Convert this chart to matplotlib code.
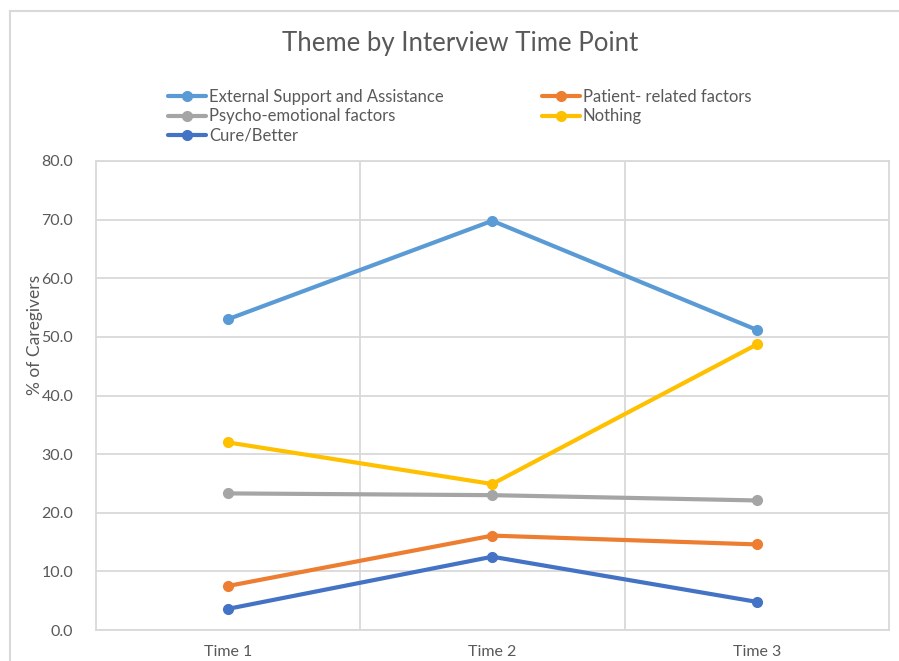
import numpy as np
import matplotlib
matplotlib.use("Agg")
from matplotlib import pyplot as plt
from matplotlib.lines import Line2D

plt.rcParams["font.family"] = ["Lato", "DejaVu Sans"]

# data
times = ["Time 1", "Time 2", "Time 3"]
external = [53.0, 69.8, 51.2]
patient = [7.5, 16.1, 14.6]
psycho = [23.3, 23.0, 22.1]
nothing = [32.0, 24.9, 48.7]
cure = [3.6, 12.5, 4.8]

series = [
    ("External Support and Assistance", external, "#5B9BD5"),
    ("Patient- related factors", patient, "#ED7D31"),
    ("Psycho-emotional factors", psycho, "#A5A5A5"),
    ("Nothing", nothing, "#FFC000"),
    ("Cure/Better", cure, "#4472C4"),
]

grid_c = "#D9D9D9"
text_c = "#595959"

fig = plt.figure(figsize=(8.99, 6.61), dpi=100)
ax = fig.add_axes([95.5 / 899, 1 - 630 / 661, (889 - 95.5) / 899, (630 - 161) / 661])

x = np.arange(len(times))
handles = {}
for name, vals, col in series:
    h, = ax.plot(x, vals, color=col, lw=3, marker="o", ms=7,
                 solid_capstyle="round", label=name, zorder=3)
    handles[name] = h

ax.set_xlim(-0.5, 2.5)
ax.set_ylim(0, 80)
ax.set_yticks(np.arange(0, 81, 10))
ax.set_yticklabels([f"{v:.1f}" for v in np.arange(0, 81, 10)])
ax.set_xticks(x)
ax.set_xticklabels(times)
ax.set_xticks([0.5, 1.5], minor=True)
ax.grid(axis="y", color=grid_c, lw=1.3)
ax.grid(axis="x", which="minor", color=grid_c, lw=1.3)
ax.tick_params(length=0, which="both", colors=text_c, labelsize=11.5)
ax.tick_params(axis="y", pad=16)
ax.tick_params(axis="x", pad=11)
for s in ax.spines.values():
    s.set_color(grid_c)
    s.set_linewidth(1.3)

fig.text(35 / 899, 1 - 335 / 661, "% of Caregivers", rotation=90,
         ha="center", va="center", color=text_c, fontsize=12.5)

fig.text(460 / 899, 1 - 43 / 661, "Theme by Interview Time Point",
         ha="center", va="center", color=text_c, fontsize=18.5)

order = ["External Support and Assistance", "Psycho-emotional factors", "Cure/Better",
         "Patient- related factors", "Nothing"]
leg = fig.legend([handles[n] for n in order], order, ncol=2, frameon=False,
                 loc="upper left", bbox_to_anchor=(168 / 899, 1 - 89 / 661),
                 fontsize=12, handlelength=2.3, handletextpad=0.15,
                 labelspacing=0.2, columnspacing=5.9, borderaxespad=0, borderpad=0)
for t in leg.get_texts():
    t.set_color(text_c)

# chart area border (cropped at right and bottom)
fig.add_artist(Line2D([10 / 899, 10 / 899], [0, 1 - 11 / 661], color=grid_c, lw=1.5,
                      transform=fig.transFigure))
fig.add_artist(Line2D([10 / 899, 1], [1 - 11 / 661, 1 - 11 / 661], color=grid_c, lw=1.5,
                      transform=fig.transFigure))

fig.savefig("out.png", dpi=100)
